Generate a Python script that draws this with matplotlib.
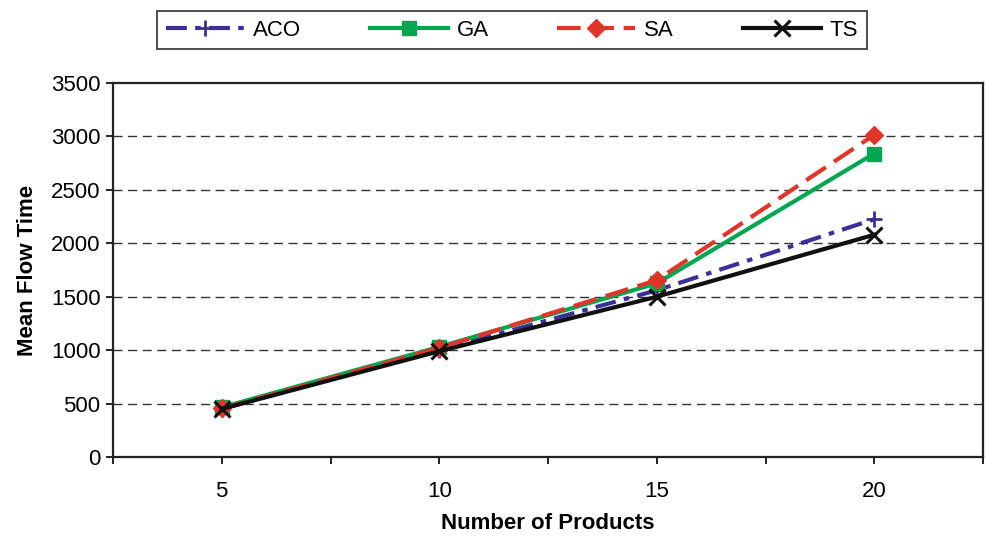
import numpy as np
import matplotlib
matplotlib.use('Agg')
import matplotlib.pyplot as plt

# data
products = ['5', '10', '15', '20']
aco = [450, 1000, 1560, 2225]
ga = [465, 1030, 1625, 2840]
sa = [455, 1020, 1655, 3015]
ts = [450, 990, 1500, 2080]

plt.rcParams['font.family'] = ['Liberation Sans', 'DejaVu Sans']
plt.rcParams['lines.scale_dashes'] = False

fig = plt.figure(figsize=(9.86, 5.36), dpi=100)
ax = fig.add_axes([113/986, 1-457/536, (983-113)/986, (457-83)/536])

x = np.arange(len(products))
ax.plot(x, aco, color='#3b2f98', lw=3, dashes=(15, 6, 4, 6), marker='+', ms=12, mew=2, label='ACO')
ax.plot(x, ga, color='#00a650', lw=3, marker='s', ms=10.5, label='GA')
ax.plot(x, sa, color='#e2352a', lw=3, dashes=(17, 7), marker='D', ms=9.5, label='SA')
ax.plot(x, ts, color='#111111', lw=3, marker='x', ms=11, mew=2.2, label='TS')

ax.set_xlim(-0.5, 3.5)
ax.set_ylim(0, 3500)
ax.set_yticks(np.arange(0, 3501, 500))
ax.set_xticks(x)
ax.set_xticks(np.arange(-0.5, 3.6, 1), minor=True)
ax.set_xticklabels(products, fontsize=16)
ax.tick_params(axis='x', which='both', length=5, width=1.2, direction='out', pad=12)
ax.tick_params(axis='y', length=5, width=1.2, direction='out', labelsize=16, pad=4)

for v in np.arange(500, 3001, 500):
    ax.axhline(v, color='#333333', lw=1, dashes=(6.5, 4), zorder=0)

for s in ax.spines.values():
    s.set_linewidth(1.6)
    s.set_color('#222222')

ax.set_xlabel('Number of Products', fontsize=16, fontweight='bold', labelpad=8)
ax.set_ylabel('Mean Flow Time', fontsize=16, fontweight='bold', labelpad=9)

leg = fig.legend(loc='center', bbox_to_anchor=(512/986, 1-30/536), ncol=4,
                 handlelength=3.5, handletextpad=0.4, columnspacing=3.1,
                 frameon=True, fancybox=False, borderpad=0.4, borderaxespad=0,
                 prop={'size': 16})
leg.get_frame().set_edgecolor('#222222')
leg.get_frame().set_linewidth(1.4)

fig.savefig('out.png', dpi=100)
